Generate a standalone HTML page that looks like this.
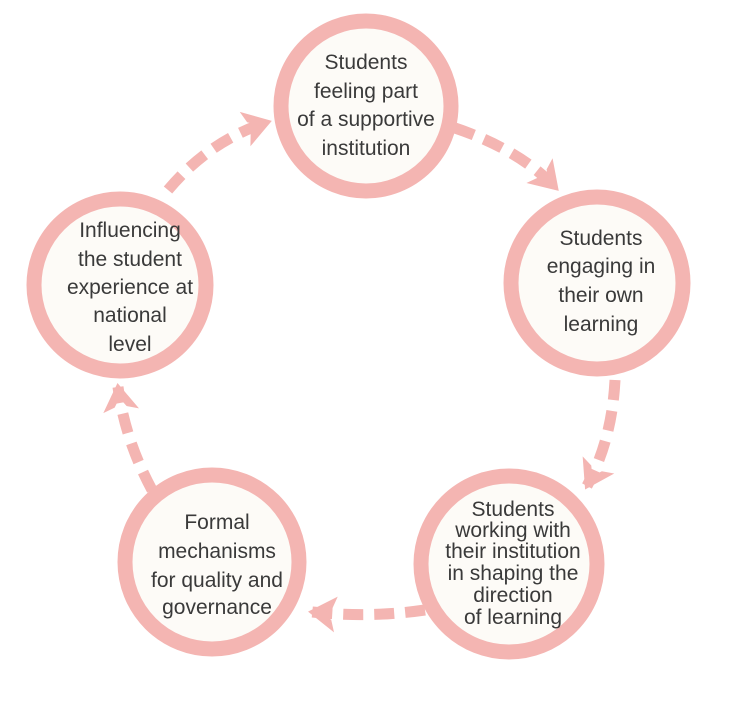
<!DOCTYPE html>
<html><head><meta charset="utf-8"><style>
html,body{margin:0;padding:0;background:#fff;}
svg{display:block;}
text{font-family:"Liberation Sans Narrow","Liberation Sans",sans-serif;font-size:21px;fill:#3a3a3a;text-anchor:middle;}
</style></head><body>
<svg width="752" height="704" viewBox="0 0 752 704" xmlns="http://www.w3.org/2000/svg">
<defs>
<marker id="ah" markerUnits="userSpaceOnUse" markerWidth="40" markerHeight="44" viewBox="-30 -22 40 44" refX="0" refY="0" orient="auto">
<path d="M4,0 L-24,-18 L-20,-6 L-11,0 L-20,6 L-24,18 Z" fill="#f4b5b2"/>
</marker>
</defs>
<g fill="none" stroke="#f4b5b2" stroke-width="11" stroke-dasharray="20 11">
<path d="M455,128 Q520,150 556,188" marker-end="url(#ah)"/>
<path d="M615,380 Q612,440 587,486" marker-end="url(#ah)"/>
<path d="M425,610 Q370,618 312,612" marker-end="url(#ah)"/>
<path d="M152,490 Q125,440 118,387" marker-end="url(#ah)"/>
<path d="M168,190 Q210,140 268,122" marker-end="url(#ah)"/>
</g>
<g fill="#fdfbf7" stroke="#f4b5b2" stroke-width="15">
<circle cx="366" cy="106" r="85"/>
<circle cx="597" cy="283" r="86"/>
<circle cx="509" cy="564" r="88"/>
<circle cx="212" cy="562" r="87"/>
<circle cx="120" cy="285" r="86"/>
</g>
<text x="366" y="69">Students</text>
<text x="366" y="98">feeling part</text>
<text x="366" y="126">of a supportive</text>
<text x="366" y="155">institution</text>

<text x="601" y="245">Students</text>
<text x="601" y="273">engaging in</text>
<text x="601" y="302">their own</text>
<text x="601" y="331">learning</text>

<text x="513" y="516">Students</text>
<text x="513" y="537">working with</text>
<text x="513" y="558">their institution</text>
<text x="513" y="580">in shaping the</text>
<text x="513" y="602">direction</text>
<text x="513" y="624">of learning</text>

<text x="217" y="529">Formal</text>
<text x="217" y="558">mechanisms</text>
<text x="217" y="587">for quality and</text>
<text x="217" y="614">governance</text>

<text x="130" y="237">Influencing</text>
<text x="130" y="266">the student</text>
<text x="130" y="294">experience at</text>
<text x="130" y="322">national</text>
<text x="130" y="351">level</text>
</svg>
</body></html>
